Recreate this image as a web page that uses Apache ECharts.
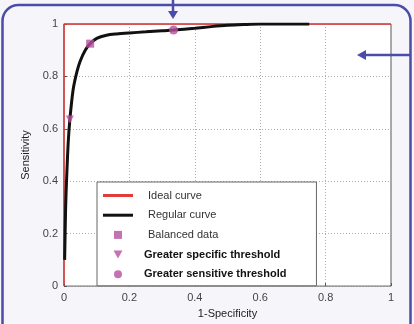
<!DOCTYPE html>
<html>
<head>
<meta charset="utf-8">
<script src="https://cdn.jsdelivr.net/npm/echarts@6/dist/echarts.min.js"></script>
<style>
html,body{margin:0;padding:0;background:#f6f6fa;}
#c{width:414px;height:324px;}
</style>
</head>
<body>
<div id="c"></div>
<script>
// ---- data ----
const xTicks = [0, 0.2, 0.4, 0.6, 0.8, 1];
const yTicks = [0, 0.2, 0.4, 0.6, 0.8, 1];
const idealX = [0, 0, 1];
const idealY = [0, 1, 1];
const regularX = [0.002, 0.005, 0.008, 0.013, 0.018, 0.028, 0.04, 0.05, 0.065, 0.08, 0.1, 0.13, 0.16, 0.2, 0.25, 0.3, 0.335, 0.4, 0.45, 0.5, 0.55, 0.6, 0.75];
const regularY = [0.10, 0.30, 0.41, 0.55, 0.636, 0.75, 0.82, 0.86, 0.90, 0.925, 0.945, 0.957, 0.962, 0.966, 0.970, 0.974, 0.977, 0.984, 0.990, 0.995, 0.998, 1.0, 1.0];
const balanced = [0.08, 0.925];
const specificThr = [0.018, 0.636];
const sensitiveThr = [0.335, 0.977];
const seriesNames = ['Ideal curve', 'Regular curve', 'Balanced data', 'Greater specific threshold', 'Greater sensitive threshold'];

const zip = (a, b) => a.map((v, i) => [v, b[i]]);
const mk = '#b54f9d';
const lineIcon = 'path://M0,0 L30,0 L30,3 L0,3 Z';
const sqIcon = 'path://M0,0 L10,0 L10,10 L0,10 Z';
const triIcon = 'path://M0,0 L10,0 L5,9 Z';

const chart = echarts.init(document.getElementById('c'));
chart.setOption({
  animation: false,
  textStyle: { fontFamily: 'Liberation Sans, Arial, sans-serif' },
  grid: { left: 64, right: 23, top: 24, bottom: 36, show: true, backgroundColor: '#fff', borderColor: '#555', borderWidth: 1 },
  xAxis: {
    type: 'value', min: 0, max: 1, interval: 0.2,
    name: '1-Specificity', nameLocation: 'middle', nameGap: 20,
    nameTextStyle: { fontSize: 11, color: '#222' },
    axisLine: { show: false },
    axisTick: { show: true, inside: true, length: 3, lineStyle: { color: '#555' } },
    axisLabel: { fontSize: 11, color: '#444', margin: 6, formatter: v => String(+v.toFixed(1)) },
    splitLine: { show: true, lineStyle: { color: '#aaa', type: [1, 2] } }
  },
  yAxis: {
    type: 'value', min: 0, max: 1, interval: 0.2,
    name: 'Sensitivity', nameLocation: 'middle', nameGap: 29,
    nameTextStyle: { fontSize: 11, color: '#222' },
    axisLine: { show: false },
    axisTick: { show: true, inside: true, length: 3, lineStyle: { color: '#555' } },
    axisLabel: { fontSize: 11, color: '#444', margin: 6, formatter: v => String(+v.toFixed(1)) },
    splitLine: { show: true, lineStyle: { color: '#aaa', type: [1, 2] } }
  },
  legend: {
    orient: 'vertical', left: 97, top: 182,
    data: [
      { name: seriesNames[0], icon: lineIcon },
      { name: seriesNames[1], icon: lineIcon },
      { name: seriesNames[2], icon: sqIcon },
      { name: seriesNames[3], icon: triIcon },
      { name: seriesNames[4], icon: 'circle' }
    ],
    backgroundColor: '#fff', borderColor: '#666', borderWidth: 1,
    padding: [7, 30, 5, 6],
    itemWidth: 30, itemHeight: 8, itemGap: 6.7,
    formatter: n => (seriesNames.indexOf(n) >= 3 ? '{b|' + n + '}' : '{n|' + n + '}'),
    textStyle: {
      fontSize: 11, color: '#222', lineHeight: 13,
      rich: {
        n: { fontSize: 11, color: '#333', padding: [0, 0, 0, 10] },
        b: { fontSize: 11, color: '#111', fontWeight: 'bold', padding: [0, 0, 0, 6] }
      }
    }
  },
  series: [
    { name: seriesNames[0], type: 'line', data: zip(idealX, idealY), symbol: 'none', lineStyle: { color: '#e33a3a', width: 1.5 }, itemStyle: { color: '#e33a3a' }, z: 2 },
    { name: seriesNames[1], type: 'line', data: zip(regularX, regularY), symbol: 'none', smooth: 0.3, lineStyle: { color: '#111', width: 3 }, itemStyle: { color: '#111' }, z: 3 },
    { name: seriesNames[2], type: 'scatter', data: [balanced], symbol: 'rect', symbolSize: 8, itemStyle: { color: mk }, z: 5 },
    { name: seriesNames[3], type: 'scatter', data: [specificThr], symbol: triIcon, symbolSize: 8, itemStyle: { color: mk }, z: 5 },
    { name: seriesNames[4], type: 'scatter', data: [sensitiveThr], symbol: 'circle', symbolSize: 9, itemStyle: { color: mk }, z: 5 }
  ],
  graphic: [
    { type: 'rect', silent: true, z: 100, shape: { x: 2.5, y: 5, width: 408, height: 360, r: 16 }, style: { fill: null, stroke: '#4b4ba9', lineWidth: 2.5 } },
    { type: 'line', silent: true, z: 100, shape: { x1: 173, y1: 0, x2: 173, y2: 12 }, style: { stroke: '#4b4ba9', lineWidth: 2.5 } },
    { type: 'polygon', silent: true, z: 100, shape: { points: [[168, 11], [178, 11], [173, 19]] }, style: { fill: '#4b4ba9' } },
    { type: 'line', silent: true, z: 100, shape: { x1: 411, y1: 55, x2: 365, y2: 55 }, style: { stroke: '#4b4ba9', lineWidth: 2.5 } },
    { type: 'polygon', silent: true, z: 100, shape: { points: [[366, 50], [366, 60], [357, 55]] }, style: { fill: '#4b4ba9' } }
  ]
});
</script>
</body>
</html>
